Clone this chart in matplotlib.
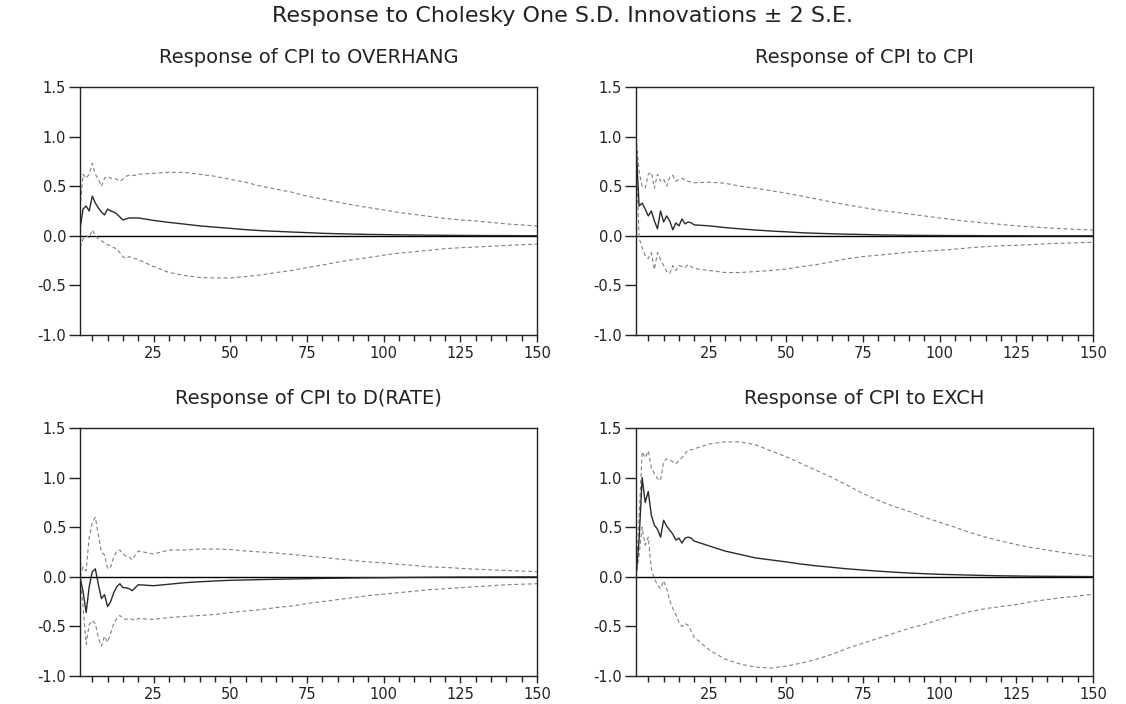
import matplotlib
matplotlib.use("Agg")
import matplotlib.pyplot as plt
from matplotlib.ticker import MultipleLocator, FormatStrFormatter

plt.rcParams['font.family'] = ['DejaVu Sans']
plt.rcParams['axes.unicode_minus'] = False

# periods: every period up to 20, then every 5th
periods = list(range(1, 21)) + list(range(25, 151, 5))

# Response of CPI to OVERHANG
overhang_resp = [0.07, 0.27, 0.30, 0.25, 0.40, 0.33, 0.28, 0.24, 0.21, 0.27,
                 0.25, 0.24, 0.22, 0.19, 0.16, 0.17, 0.18, 0.18, 0.18, 0.18,
                 0.155, 0.135, 0.118, 0.10, 0.087, 0.075, 0.062, 0.052, 0.045, 0.038,
                 0.032, 0.025, 0.021, 0.017, 0.014, 0.012, 0.010, 0.008, 0.006, 0.005,
                 0.004, 0.003, 0.002, 0.002, 0.001, 0.001]
overhang_hi = [0.28, 0.62, 0.58, 0.62, 0.73, 0.62, 0.57, 0.50, 0.58, 0.60,
               0.58, 0.58, 0.57, 0.55, 0.57, 0.60, 0.61, 0.61, 0.61, 0.62,
               0.63, 0.64, 0.64, 0.62, 0.60, 0.57, 0.54, 0.50, 0.47, 0.44,
               0.40, 0.37, 0.34, 0.31, 0.285, 0.26, 0.235, 0.215, 0.195, 0.175,
               0.16, 0.15, 0.135, 0.12, 0.11, 0.10]
overhang_lo = [-0.12, -0.03, 0.00, -0.02, 0.06, 0.00, -0.03, -0.05, -0.07, -0.09,
               -0.10, -0.12, -0.13, -0.17, -0.21, -0.23, -0.21, -0.22, -0.23, -0.24,
               -0.31, -0.37, -0.40, -0.42, -0.425, -0.425, -0.41, -0.395, -0.37, -0.35,
               -0.32, -0.295, -0.265, -0.24, -0.22, -0.195, -0.175, -0.16, -0.145, -0.13,
               -0.12, -0.113, -0.105, -0.097, -0.09, -0.084]

# Response of CPI to CPI
cpi_resp = [0.95, 0.30, 0.33, 0.27, 0.20, 0.25, 0.15, 0.07, 0.25, 0.14,
            0.20, 0.15, 0.06, 0.13, 0.10, 0.17, 0.12, 0.14, 0.13, 0.11,
            0.10, 0.083, 0.07, 0.058, 0.048, 0.04, 0.031, 0.025, 0.02, 0.016,
            0.013, 0.009, 0.007, 0.005, 0.004, 0.003, 0.002, 0.002, 0.001, 0.001,
            0.001, 0.0, 0.0, 0.0, 0.0, 0.0]
cpi_hi = [1.00, 0.65, 0.50, 0.48, 0.62, 0.64, 0.48, 0.62, 0.55, 0.57,
          0.50, 0.59, 0.61, 0.55, 0.57, 0.58, 0.56, 0.55, 0.54, 0.535,
          0.54, 0.53, 0.50, 0.48, 0.455, 0.43, 0.40, 0.37, 0.34, 0.31,
          0.285, 0.26, 0.24, 0.22, 0.20, 0.18, 0.16, 0.143, 0.128, 0.115,
          0.10, 0.09, 0.08, 0.072, 0.064, 0.058]
cpi_lo = [0.90, -0.02, -0.12, -0.20, -0.23, -0.17, -0.34, -0.17, -0.24, -0.30,
          -0.36, -0.38, -0.30, -0.35, -0.30, -0.31, -0.32, -0.29, -0.31, -0.33,
          -0.35, -0.37, -0.37, -0.36, -0.35, -0.335, -0.31, -0.29, -0.26, -0.23,
          -0.21, -0.195, -0.18, -0.165, -0.155, -0.145, -0.135, -0.12, -0.11, -0.10,
          -0.096, -0.088, -0.08, -0.075, -0.07, -0.065]

# Response of CPI to D(RATE)
rate_resp = [0.0, -0.15, -0.36, -0.10, 0.05, 0.08, -0.08, -0.22, -0.18, -0.30,
             -0.25, -0.16, -0.10, -0.07, -0.11, -0.11, -0.12, -0.14, -0.11, -0.08,
             -0.09, -0.075, -0.06, -0.05, -0.042, -0.035, -0.032, -0.028, -0.025, -0.022,
             -0.019, -0.016, -0.014, -0.012, -0.010, -0.009, -0.007, -0.006, -0.005, -0.004,
             -0.003, -0.003, -0.002, -0.002, -0.001, -0.001]
rate_hi = [0.0, 0.10, 0.06, 0.40, 0.55, 0.60, 0.42, 0.25, 0.22, 0.08,
           0.10, 0.20, 0.26, 0.27, 0.23, 0.21, 0.20, 0.17, 0.22, 0.26,
           0.23, 0.27, 0.27, 0.28, 0.28, 0.275, 0.26, 0.25, 0.24, 0.225,
           0.21, 0.195, 0.18, 0.165, 0.15, 0.14, 0.125, 0.115, 0.10, 0.095,
           0.085, 0.077, 0.07, 0.063, 0.058, 0.052]
rate_lo = [0.0, -0.30, -0.68, -0.48, -0.44, -0.47, -0.62, -0.70, -0.60, -0.66,
           -0.57, -0.47, -0.42, -0.39, -0.42, -0.43, -0.42, -0.43, -0.44, -0.42,
           -0.43, -0.41, -0.40, -0.39, -0.38, -0.36, -0.345, -0.33, -0.31, -0.295,
           -0.27, -0.25, -0.23, -0.21, -0.19, -0.175, -0.16, -0.145, -0.13, -0.12,
           -0.11, -0.10, -0.09, -0.08, -0.075, -0.07]

# Response of CPI to EXCH
exch_resp = [0.0, 0.37, 1.00, 0.75, 0.86, 0.62, 0.52, 0.48, 0.40, 0.57,
             0.51, 0.47, 0.43, 0.37, 0.39, 0.34, 0.39, 0.40, 0.39, 0.36,
             0.31, 0.26, 0.225, 0.19, 0.17, 0.15, 0.128, 0.11, 0.095, 0.08,
             0.068, 0.057, 0.047, 0.038, 0.031, 0.025, 0.021, 0.017, 0.013, 0.010,
             0.008, 0.006, 0.005, 0.004, 0.003, 0.002]
exch_hi = [0.0, 0.60, 1.26, 1.20, 1.27, 1.10, 1.04, 0.99, 0.97, 1.16,
           1.19, 1.18, 1.16, 1.14, 1.17, 1.20, 1.24, 1.28, 1.28, 1.29,
           1.34, 1.36, 1.36, 1.33, 1.27, 1.21, 1.14, 1.07, 1.00, 0.92,
           0.84, 0.77, 0.71, 0.66, 0.60, 0.55, 0.50, 0.445, 0.40, 0.36,
           0.325, 0.295, 0.27, 0.245, 0.225, 0.205]
exch_lo = [0.0, 0.22, 0.50, 0.32, 0.40, 0.08, -0.02, -0.08, -0.12, -0.04,
           -0.12, -0.24, -0.32, -0.38, -0.46, -0.50, -0.47, -0.49, -0.55, -0.61,
           -0.74, -0.83, -0.88, -0.91, -0.92, -0.90, -0.87, -0.83, -0.78, -0.72,
           -0.67, -0.62, -0.57, -0.52, -0.48, -0.43, -0.39, -0.35, -0.32, -0.30,
           -0.28, -0.25, -0.23, -0.21, -0.195, -0.175]

main_title = "Response to Cholesky One S.D. Innovations \u00b1 2 S.E."
panel_titles = ["Response of CPI to OVERHANG", "Response of CPI to CPI",
                "Response of CPI to D(RATE)", "Response of CPI to EXCH"]

TEXT = '#222222'


def draw_panel(ax, title, resp, hi, lo):
    """One impulse response with its +/- 2 S.E. band"""
    ax.axhline(0, color='black', lw=1.0, zorder=1)
    for band in (hi, lo):
        ax.plot(periods, band, color='#808080', lw=0.8,
                linestyle=(0, (3.5, 2.5)), zorder=2)
    ax.plot(periods, resp, color='#2a2a2a', lw=1.0, zorder=3)

    ax.set_xlim(1, 150)
    ax.set_ylim(-1.0, 1.5)
    ax.xaxis.set_major_locator(MultipleLocator(25))
    ax.xaxis.set_minor_locator(MultipleLocator(5))
    ax.yaxis.set_major_locator(MultipleLocator(0.5))
    ax.yaxis.set_major_formatter(FormatStrFormatter('%.1f'))

    ax.tick_params(axis='x', which='major', direction='out', length=5,
                   width=1, labelsize=10.5, colors=TEXT, pad=3)
    ax.tick_params(axis='x', which='minor', direction='out', length=4,
                   width=1, colors=TEXT)
    ax.tick_params(axis='y', direction='out', length=8, width=1,
                   labelsize=10.5, colors=TEXT, pad=2)
    for sp in ax.spines.values():
        sp.set_color(TEXT)
        sp.set_linewidth(1.0)
    ax.set_title(title, fontsize=14, color=TEXT, pad=17)


fig = plt.figure(figsize=(11.26, 7.04), dpi=100)

# axes rectangles (pixels -> figure fractions)
W, H = 1126, 704
left_x = [80, 636]
top_y = [87, 428]
ax_w, ax_h = 457, 248

series = [(overhang_resp, overhang_hi, overhang_lo),
          (cpi_resp, cpi_hi, cpi_lo),
          (rate_resp, rate_hi, rate_lo),
          (exch_resp, exch_hi, exch_lo)]

for i, (resp, hi, lo) in enumerate(series):
    row, col = divmod(i, 2)
    rect = [left_x[col] / W, 1 - (top_y[row] + ax_h) / H, ax_w / W, ax_h / H]
    ax = fig.add_axes(rect)
    draw_panel(ax, panel_titles[i], resp, hi, lo)

fig.text(0.5, 1 - 16 / H, main_title, ha='center', va='center',
         fontsize=16, color=TEXT)

fig.savefig('out.png', dpi=100)
